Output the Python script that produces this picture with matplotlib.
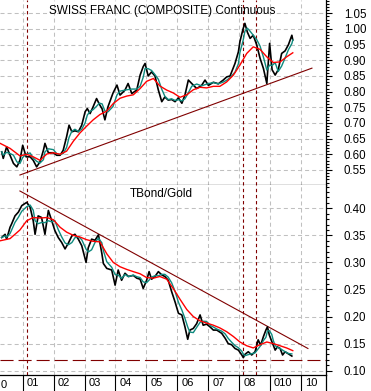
import numpy as np
import pandas as pd
import matplotlib
matplotlib.use("Agg")
import matplotlib.pyplot as plt
import matplotlib.transforms as mtransforms
from matplotlib.lines import Line2D
from matplotlib.ticker import MultipleLocator

plt.rcParams['font.family'] = ['Liberation Sans', 'DejaVu Sans']
plt.rcParams['lines.scale_dashes'] = False

# ---- Swiss franc (composite) ----
chf_years = [2000.32, 2000.37, 2000.48, 2000.59, 2000.70, 2000.81, 2000.91, 2001.00, 2001.11, 2001.24,
             2001.34, 2001.45, 2001.56, 2001.67, 2001.72, 2001.83, 2001.99, 2002.10, 2002.21, 2002.31,
             2002.42, 2002.50, 2002.59, 2002.69, 2002.80, 2002.91, 2003.02, 2003.09, 2003.18, 2003.28,
             2003.39, 2003.48, 2003.57, 2003.66, 2003.76, 2003.92, 2004.05, 2004.15, 2004.31, 2004.41,
             2004.53, 2004.69, 2004.80, 2004.90, 2004.96, 2005.06, 2005.17, 2005.28, 2005.39, 2005.50,
             2005.60, 2005.71, 2005.82, 2005.93, 2006.04, 2006.15, 2006.25, 2006.36, 2006.47, 2006.63,
             2006.79, 2006.90, 2007.01, 2007.17, 2007.33, 2007.49, 2007.60, 2007.71, 2007.87, 2007.98,
             2008.03, 2008.13, 2008.19, 2008.27, 2008.36, 2008.46, 2008.57, 2008.68, 2008.79, 2008.90,
             2008.99, 2009.07, 2009.17, 2009.27, 2009.38, 2009.49, 2009.60, 2009.71, 2009.74]
chf_close = [0.608, 0.587, 0.624, 0.597, 0.571, 0.560, 0.581, 0.629, 0.592, 0.592,
             0.581, 0.560, 0.576, 0.613, 0.635, 0.605, 0.605, 0.597, 0.597, 0.613,
             0.656, 0.693, 0.672, 0.675, 0.672, 0.693, 0.736, 0.746, 0.730, 0.752,
             0.778, 0.760, 0.745, 0.710, 0.752, 0.795, 0.821, 0.789, 0.805, 0.826,
             0.794, 0.805, 0.853, 0.880, 0.890, 0.850, 0.863, 0.850, 0.805, 0.768,
             0.783, 0.773, 0.775, 0.768, 0.780, 0.763, 0.789, 0.837, 0.826, 0.810,
             0.820, 0.837, 0.820, 0.830, 0.825, 0.837, 0.847, 0.850, 0.890, 0.927,
             0.960, 1.000, 1.018, 0.990, 0.970, 0.980, 0.950, 0.907, 0.874, 0.826,
             0.954, 0.870, 0.853, 0.870, 0.922, 0.930, 0.950, 0.980, 0.965]

# slow moving average (red)
ma_years = [2000.27, 2000.59, 2000.91, 2001.13, 2001.34, 2001.56, 2001.78, 2001.99, 2002.21, 2002.42,
            2002.64, 2002.85, 2003.07, 2003.28, 2003.50, 2003.72, 2003.93, 2004.15, 2004.37, 2004.58,
            2004.80, 2005.01, 2005.23, 2005.44, 2005.66, 2005.87, 2006.09, 2006.31, 2006.52, 2006.74,
            2006.95, 2007.17, 2007.38, 2007.60, 2007.82, 2008.03, 2008.25, 2008.46, 2008.68, 2008.90,
            2009.11, 2009.33, 2009.54, 2009.74]
chf_slow = [0.635, 0.619, 0.595, 0.600, 0.592, 0.581, 0.601, 0.605, 0.600, 0.610,
            0.642, 0.668, 0.690, 0.710, 0.727, 0.738, 0.762, 0.779, 0.786, 0.790,
            0.810, 0.833, 0.842, 0.818, 0.805, 0.796, 0.782, 0.790, 0.806, 0.814,
            0.812, 0.817, 0.817, 0.831, 0.853, 0.885, 0.922, 0.943, 0.935, 0.911,
            0.893, 0.895, 0.911, 0.924]

# ---- TBond / Gold ratio ----
tbg_years = [2000.32, 2000.43, 2000.48, 2000.59, 2000.64, 2000.75, 2000.86, 2000.97, 2001.13, 2001.24,
             2001.34, 2001.40, 2001.50, 2001.61, 2001.72, 2001.83, 2001.94, 2002.04, 2002.15, 2002.26,
             2002.37, 2002.48, 2002.59, 2002.69, 2002.80, 2002.91, 2003.05, 2003.12, 2003.23, 2003.34,
             2003.45, 2003.56, 2003.61, 2003.72, 2003.88, 2003.99, 2004.09, 2004.20, 2004.31, 2004.42,
             2004.58, 2004.69, 2004.80, 2004.90, 2005.01, 2005.09, 2005.17, 2005.28, 2005.39, 2005.50,
             2005.60, 2005.71, 2005.82, 2005.93, 2006.04, 2006.15, 2006.25, 2006.34, 2006.41, 2006.52,
             2006.63, 2006.74, 2006.84, 2006.95, 2007.06, 2007.17, 2007.28, 2007.44, 2007.55, 2007.65,
             2007.76, 2007.87, 2007.98, 2008.09, 2008.14, 2008.19, 2008.30, 2008.41, 2008.52, 2008.62,
             2008.70, 2008.79, 2008.87, 2008.92, 2008.98, 2009.06, 2009.11, 2009.17, 2009.24, 2009.33,
             2009.41, 2009.49, 2009.60, 2009.71]
tbg_close = [0.346, 0.352, 0.343, 0.365, 0.371, 0.386, 0.393, 0.405, 0.411, 0.402,
             0.377, 0.352, 0.386, 0.383, 0.352, 0.396, 0.377, 0.359, 0.346, 0.337,
             0.325, 0.336, 0.349, 0.352, 0.343, 0.331, 0.300, 0.327, 0.343, 0.341,
             0.351, 0.317, 0.298, 0.289, 0.286, 0.258, 0.286, 0.267, 0.280, 0.274,
             0.276, 0.271, 0.269, 0.252, 0.267, 0.283, 0.269, 0.274, 0.283, 0.277,
             0.274, 0.267, 0.246, 0.227, 0.206, 0.203, 0.181, 0.158, 0.175, 0.178,
             0.187, 0.203, 0.184, 0.186, 0.181, 0.175, 0.175, 0.169, 0.160, 0.150,
             0.148, 0.141, 0.138, 0.129, 0.124, 0.130, 0.135, 0.129, 0.135, 0.157,
             0.147, 0.163, 0.175, 0.181, 0.166, 0.154, 0.147, 0.138, 0.144, 0.141,
             0.129, 0.135, 0.131, 0.127]
tbg_slow = [0.340, 0.344, 0.360, 0.377, 0.383, 0.382, 0.383, 0.379, 0.365, 0.356,
            0.350, 0.347, 0.342, 0.339, 0.338, 0.316, 0.300, 0.292, 0.287, 0.283,
            0.279, 0.272, 0.271, 0.274, 0.269, 0.252, 0.232, 0.213, 0.200, 0.192,
            0.188, 0.184, 0.179, 0.172, 0.163, 0.153, 0.146, 0.142, 0.148, 0.153,
            0.150, 0.146, 0.142, 0.137]

# trend lines and markers
chf_trend = ([2000.91, 2010.36], [0.534, 0.875])
tbg_trend = ([2000.91, 2010.23], [0.432, 0.141])
tbg_support = 0.12
event_years = [2001.13, 2008.14, 2008.55]

tick_years = [2001, 2002, 2003, 2004, 2005, 2006, 2007, 2008, 2009, 2010]
tick_labels = ["01", "02", "03", "04", "05", "06", "07", "08", "010", "10"]


def moving_avg(vals, n=3):
    return pd.Series(vals).rolling(n, min_periods=1).mean().values


W, H = 371, 391
fig = plt.figure(figsize=(W / 100, H / 100), dpi=100)
right = 326 / W
split = 1 - 184.5 / H
base = 1 - 375 / H
ax1 = fig.add_axes([0, split, right, 1 - split])
ax2 = fig.add_axes([0, base, right, split - base])

grid_kw = dict(color="#c0c0c0", lw=0.75, linestyle=(0, (2.9, 2.2)))
xlim = (2000.265, 2010.815)

panels = [
    (ax1, chf_years, chf_close, chf_slow, chf_trend, (0.5037, 1.0925), np.arange(0.55, 1.051, 0.05)),
    (ax2, tbg_years, tbg_close, tbg_slow, tbg_trend, (0.092, 0.444), np.arange(0.10, 0.401, 0.05)),
]
for ax, yrs, close, slow, trend, ylim, yticks in panels:
    ax.set_xlim(*xlim)
    ax.set_ylim(*ylim)
    ax.set_xticks(tick_years)
    ax.set_yticks(yticks)
    ax.yaxis.set_minor_locator(MultipleLocator(0.01))
    ax.grid(True, which="major", **grid_kw)
    ax.set_axisbelow(True)
    ax.yaxis.tick_right()
    ax.set_yticklabels([f"{v:.2f}" for v in yticks])
    ax.tick_params(axis="y", which="major", direction="out", length=4.3, width=0.8,
                   pad=8.6, labelsize=8.3, colors="black")
    ax.tick_params(axis="y", which="minor", direction="out", length=2.2, width=0.8)
    for s in ["left", "top"]:
        ax.spines[s].set_visible(False)
    ax.spines["right"].set_linewidth(0.9)
    ax.spines["bottom"].set_linewidth(0.9)

    for ey in event_years:
        ax.axvline(ey, color="#800000", lw=0.8, linestyle=(0, (2.4, 2.0)), zorder=2)
    ax.plot(trend[0], trend[1], color="#800000", lw=0.8, zorder=3)
    ax.plot(yrs, close, color="black", lw=1.2, zorder=4)
    ax.plot(yrs, moving_avg(close), color="#0e8a7e", lw=1.0, zorder=5)
    ax.plot(ma_years, slow, color="#ff0000", lw=1.0, zorder=6)

ax2.axhline(tbg_support, color="#800000", lw=0.8, linestyle=(0, (9.4, 3.6)), zorder=3)

ax1.tick_params(axis="x", bottom=False, labelbottom=False)
ax2.spines["top"].set_visible(False)
ax2.set_xticklabels(tick_labels)
ax2.tick_params(axis="x", direction="out", length=11.5, width=0.8, pad=-9.5, labelsize=8)
offset = mtransforms.ScaledTranslation(3 / 72, 0, fig.dpi_scale_trans)
for lab in ax2.get_xticklabels():
    lab.set_horizontalalignment("left")
    lab.set_transform(lab.get_transform() + offset)

fig.text(0.5 / W, 1 - 385 / H, "0", ha="left", va="center", fontsize=8)
fig.add_artist(Line2D([right, right], [0, base], color="black", lw=0.9))

ax1.text(0.497, 0.94, "SWISS FRANC (COMPOSITE) Continuous", transform=ax1.transAxes,
         ha="center", va="center", fontsize=8.5)
ax2.text(0.494, 0.95, "TBond/Gold", transform=ax2.transAxes,
         ha="center", va="center", fontsize=8.5)

fig.savefig("out.png", dpi=100)
